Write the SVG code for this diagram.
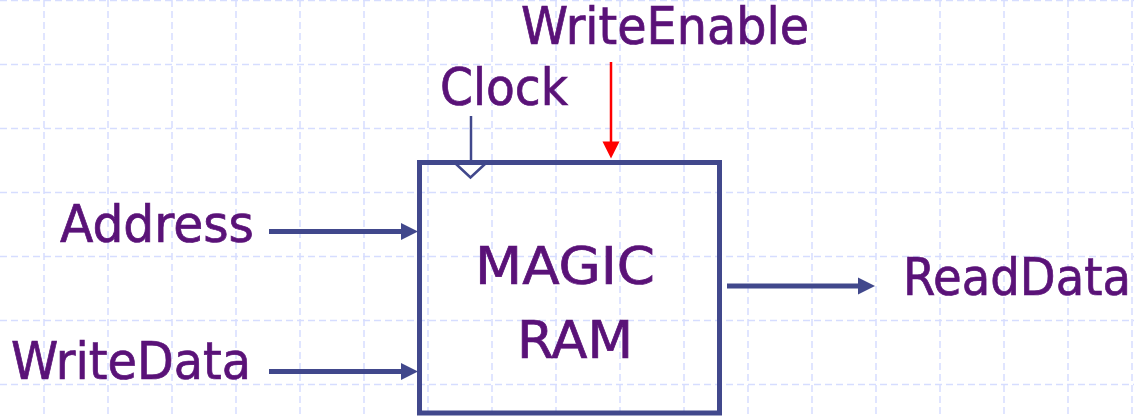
<svg xmlns="http://www.w3.org/2000/svg" width="1134" height="417" viewBox="0 0 1134 417">
  <defs>
    <style>
      .grid line { stroke: #d6ddff; stroke-width: 1.5; stroke-dasharray: 7 4; }
      .lbl { font-family: "DejaVu Sans Condensed", "DejaVu Sans", Verdana, sans-serif; font-stretch: condensed; font-size: 52px; fill: #5a1278; stroke: #5a1278; stroke-width: 0.7; }
      .bus { stroke: #41488c; stroke-width: 5; fill: none; }
      .thin { stroke: #41488c; stroke-width: 2.5; fill: none; }
      .ctl { stroke: #ff0000; stroke-width: 2.5; fill: none; }
      .headBlue { fill: #41488c; stroke: none; }
      .headRed { fill: #ff0000; stroke: none; }
    </style>
    <!-- arrowhead with its tip at the origin, pointing along +x -->
    <path id="head" d="M0,0 L-17,-8.5 L-17,8.5 Z"/>
  </defs>

  <rect width="1134" height="417" fill="#ffffff"/>

  <!-- dashed background grid, 64px pitch -->
  <g class="grid">
    <line x1="44" y1="0" x2="44" y2="417"/>
    <line x1="108" y1="0" x2="108" y2="417"/>
    <line x1="172" y1="0" x2="172" y2="417"/>
    <line x1="236" y1="0" x2="236" y2="417"/>
    <line x1="300" y1="0" x2="300" y2="417"/>
    <line x1="364" y1="0" x2="364" y2="417"/>
    <line x1="428" y1="0" x2="428" y2="417"/>
    <line x1="492" y1="0" x2="492" y2="417"/>
    <line x1="556" y1="0" x2="556" y2="417"/>
    <line x1="620" y1="0" x2="620" y2="417"/>
    <line x1="684" y1="0" x2="684" y2="417"/>
    <line x1="748" y1="0" x2="748" y2="417"/>
    <line x1="812" y1="0" x2="812" y2="417"/>
    <line x1="876" y1="0" x2="876" y2="417"/>
    <line x1="940" y1="0" x2="940" y2="417"/>
    <line x1="1004" y1="0" x2="1004" y2="417"/>
    <line x1="1068" y1="0" x2="1068" y2="417"/>
    <line x1="1132" y1="0" x2="1132" y2="417"/>
    <line x1="0" y1="0.5" x2="1134" y2="0.5"/>
    <line x1="0" y1="64.5" x2="1134" y2="64.5"/>
    <line x1="0" y1="128.5" x2="1134" y2="128.5"/>
    <line x1="0" y1="192.5" x2="1134" y2="192.5"/>
    <line x1="0" y1="256.5" x2="1134" y2="256.5"/>
    <line x1="0" y1="320.5" x2="1134" y2="320.5"/>
    <line x1="0" y1="384.5" x2="1134" y2="384.5"/>
  </g>

  <!-- memory block -->
  <g id="ram">
    <rect x="419.5" y="162.5" width="300" height="250.5" fill="none" stroke="#41488c" stroke-width="5"/>
    <polyline class="thin" points="456,164 470.5,177.5 485,164"/>
    <text class="lbl" x="475" y="284" font-size="54" textLength="180" lengthAdjust="spacingAndGlyphs">MAGIC</text>
    <text class="lbl" x="517" y="358" font-size="54" textLength="116" lengthAdjust="spacingAndGlyphs">RAM</text>
  </g>

  <g id="address"><text class="lbl" x="60" y="242" textLength="194" lengthAdjust="spacingAndGlyphs">Address</text></g>
  <g id="writedata"><text class="lbl" x="11" y="379" textLength="240" lengthAdjust="spacingAndGlyphs">WriteData</text></g>
  <g id="readdata"><text class="lbl" x="903" y="295" textLength="228" lengthAdjust="spacingAndGlyphs">ReadData</text></g>
  <g id="clock"><text class="lbl" x="440" y="105" textLength="128" lengthAdjust="spacingAndGlyphs">Clock</text></g>
  <g id="writeenable"><text class="lbl" x="521" y="44" textLength="288" lengthAdjust="spacingAndGlyphs">WriteEnable</text></g>

  <!-- connectors -->
  <g id="connectors">
    <line class="bus" x1="269" y1="231.5" x2="404" y2="231.5"/>
    <use href="#head" class="headBlue" transform="translate(418,231.5)"/>
    <line class="bus" x1="269" y1="371.5" x2="404" y2="371.5"/>
    <use href="#head" class="headBlue" transform="translate(418,371.5)"/>
    <line class="bus" x1="727" y1="286" x2="862" y2="286"/>
    <use href="#head" class="headBlue" transform="translate(875,286)"/>
    <line class="thin" x1="471" y1="116" x2="471" y2="162"/>
    <line class="ctl" x1="611" y1="62" x2="611" y2="146"/>
    <use href="#head" class="headRed" transform="translate(611,158.5) rotate(90)"/>
  </g>
</svg>
